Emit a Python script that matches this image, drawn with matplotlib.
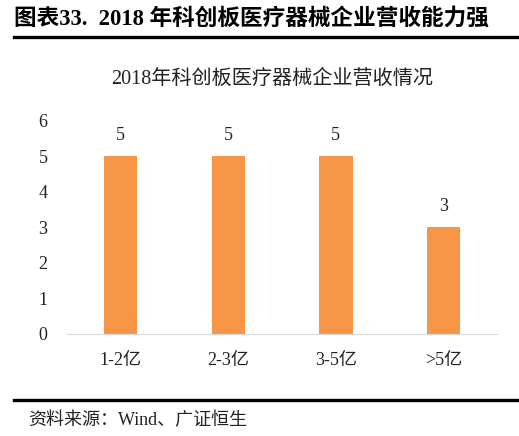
import matplotlib.pyplot as plt

plt.rcParams['font.family'] = ['Liberation Serif', 'Noto Sans CJK SC']

categories = ['1-2亿', '2-3亿', '3-5亿', '>5亿']
counts = [5, 5, 5, 3]
yticks = [0, 1, 2, 3, 4, 5, 6]

fig = plt.figure(figsize=(5.19, 4.36), dpi=100)
ax = fig.add_axes([0.129, 0.234, 0.829, 0.4885])

x = range(len(categories))
bars = ax.bar(x, counts, width=0.31, color='#F79646')
for b, v in zip(bars, counts):
    ax.text(b.get_x() + b.get_width() / 2, v + 0.35, str(v),
            ha='center', va='bottom', fontsize=13, color='#222222')

ax.set_xlim(-0.5, len(categories) - 0.5)
ax.set_ylim(0, 6)
ax.set_yticks(yticks)
ax.set_xticks(list(x))
ax.set_xticklabels(categories)
ax.tick_params(axis='both', length=0, labelsize=13, colors='#222222')
ax.tick_params(axis='x', pad=13)
ax.tick_params(axis='y', pad=14)
for s in ['top', 'right', 'left']:
    ax.spines[s].set_visible(False)
ax.spines['bottom'].set_color('#D9D9D9')

# chart title
fig.text(0.524, 0.817, '2018年科创板医疗器械企业营收情况', ha='center', va='center',
         fontsize=14.5, color='#222222')

# header
fig.text(0.027, 0.957, '图表33.  2018 年科创板医疗器械企业营收能力强', ha='left', va='center',
         fontsize=16.3, fontweight='bold', color='black')
fig.add_artist(plt.Line2D([0.027, 1.0], [0.915, 0.915], color='black', lw=2.4))

# source
fig.add_artist(plt.Line2D([0.027, 1.0], [0.082, 0.082], color='black', lw=2.4))
fig.text(0.054, 0.035, '资料来源：Wind、广证恒生', ha='left', va='center',
         fontsize=13, color='#222222')

fig.savefig('out.png', dpi=100)
